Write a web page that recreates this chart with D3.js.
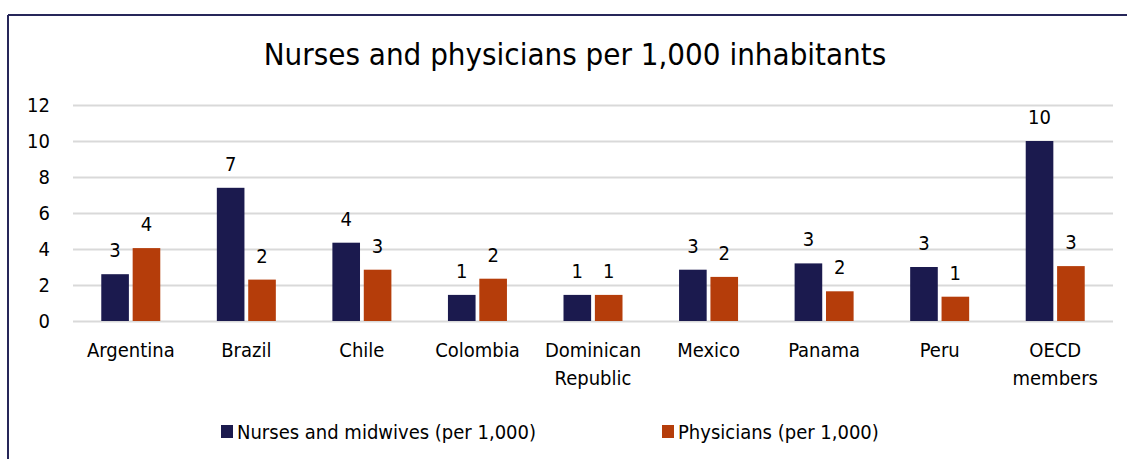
<!DOCTYPE html>
<html>
<head>
<meta charset="utf-8">
<script src="https://cdn.jsdelivr.net/npm/d3@7"></script>
<style>
  body { margin: 0; background: #fff; }
  text { font-family: "DejaVu Sans Condensed", "DejaVu Sans", sans-serif; fill: #000; }
</style>
</head>
<body>
<div id="chart"></div>
<script>
/* Nurses and physicians grouped bar chart */

const width = 1129,
    height = 459,
    margin = ({ top: 105, right: 16, bottom: 138, left: 73 });

const countries = ["Argentina", "Brazil", "Chile", "Colombia", "Dominican Republic",
    "Mexico", "Panama", "Peru", "OECD members"];
const nurses = [2.6, 7.4, 4.35, 1.45, 1.45, 2.85, 3.2, 3.0, 10.0];
const physicians = [4.05, 2.3, 2.85, 2.35, 1.45, 2.45, 1.65, 1.35, 3.05];
const seriesNames = ["Nurses and midwives (per 1,000)", "Physicians (per 1,000)"];
const yTicks = [0, 2, 4, 6, 8, 10, 12];
const colors = ["#1b1a4e", "#b53d0a"];

const svg = d3.select("#chart")
    .append("svg")
    .attr("width", width)
    .attr("height", height);

// frame (top + left edges only visible)
svg.append("line")
    .attr("x1", 8).attr("x2", 1127).attr("y1", 15).attr("y2", 15)
    .attr("stroke", "#262659").attr("stroke-width", 2);
svg.append("line")
    .attr("x1", 8).attr("x2", 8).attr("y1", 15).attr("y2", height)
    .attr("stroke", "#262659").attr("stroke-width", 2);

svg.append("text")                                        // title
    .attr("x", 575)
    .attr("y", 65)
    .attr("text-anchor", "middle")
    .style("font-size", "31px")
    .text("Nurses and physicians per 1,000 inhabitants");

let x = d3.scaleBand()
    .domain(countries)
    .range([margin.left, width - margin.right]);

let x1 = d3.scaleBand()
    .domain([0, 1])
    .range([0, 59])
    .paddingInner(0.12);

let y = d3.scaleLinear()
    .domain([0, 12])
    .range([height - margin.bottom, margin.top]);

// gridlines + y labels
svg.append("g")
    .attr("transform", `translate(${margin.left},0)`)
    .call(d3.axisLeft(y)
      .tickValues(yTicks)
      .tickSize(-(width - margin.left - margin.right))
      .tickPadding(23)
      .tickFormat(d3.format("d")))
    .call(g => g.select(".domain").remove())
    .call(g => g.selectAll(".tick line").attr("stroke", "#d9d9d9").attr("stroke-width", 2))
    .call(g => g.selectAll(".tick text").style("font-size", "20px"));

// x labels
const xAxis = svg.append("g")
    .attr("transform", `translate(0,${y(0)})`)
    .call(d3.axisBottom(x).tickSize(0).tickPadding(22));
xAxis.select(".domain").remove();
xAxis.selectAll(".tick text")
    .style("font-size", "20px")
    .each(function(d) {
      const t = d3.select(this);
      const words = d.split(" ");
      if (words.length > 1) {
        t.text(null);
        words.forEach((w, i) => {
          t.append("tspan").attr("x", 0).attr("dy", i === 0 ? "0.71em" : "1.4em").text(w);
        });
        t.attr("dy", null);
      }
    });

const series = [nurses, physicians];
const groups = svg.append("g")
    .selectAll("g")
    .data(countries)
    .join("g")
    .attr("transform", d => `translate(${x(d) + x.bandwidth() / 2 - 29.5},0)`);

groups.selectAll("rect")
    .data((d, i) => series.map((s, k) => ({ k, v: s[i] })))
    .join("rect")
    .attr("x", d => x1(d.k))
    .attr("y", d => y(d.v))
    .attr("width", x1.bandwidth())
    .attr("height", d => y(0) - y(d.v))
    .attr("fill", d => colors[d.k]);

groups.selectAll("text.val")
    .data((d, i) => series.map((s, k) => ({ k, v: s[i] })))
    .join("text")
    .attr("class", "val")
    .attr("x", d => x1(d.k) + x1.bandwidth() / 2)
    .attr("y", d => y(d.v) - 17)
    .attr("text-anchor", "middle")
    .style("font-size", "20px")
    .text(d => d3.format(".0f")(d.v));

// legend
const legX = [221, 662];
const legend = svg.append("g")
    .selectAll("g")
    .data(seriesNames)
    .join("g")
    .attr("transform", (d, i) => `translate(${legX[i]},425)`);
legend.append("rect")
    .attr("width", 12).attr("height", 13)
    .attr("fill", (d, i) => colors[i]);
legend.append("text")
    .attr("x", 16)
    .attr("y", 14)
    .style("font-size", "20px")
    .text(d => d);
</script>
</body>
</html>
